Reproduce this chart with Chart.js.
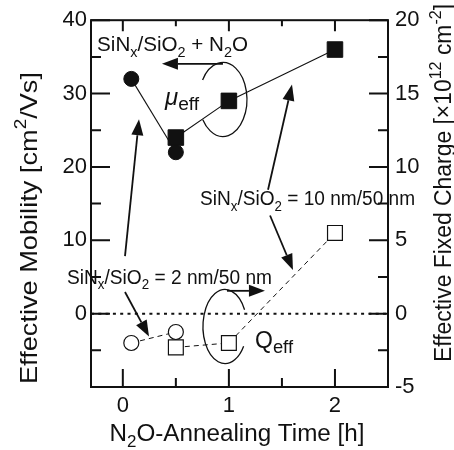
<!DOCTYPE html>
<html>
<head>
<meta charset="utf-8">
<script src="https://cdn.jsdelivr.net/npm/chart.js@4.4.1/dist/chart.umd.min.js"></script>
<style>
  html, body { margin: 0; padding: 0; background: #fff; }
</style>
</head>
<body>
<canvas id="c" width="454" height="450"></canvas>
<script>
// ─── Données ───
const timeCircle = [0.08, 0.5];        // SiNx/SiO2 = 2 nm/50 nm
const timeSquare = [0.5, 1, 2];        // SiNx/SiO2 = 10 nm/50 nm
const mobCircle  = [32, 22];
const mobSquare  = [24, 29, 36];
const qCircle    = [-2.0, -1.25];
const qSquare    = [-2.3, -2.0, 5.5];

const xTicks    = [0, 0.5, 1, 1.5, 2];
const xLabels   = [0, 1, 2];
const mobTicks  = [-10, -5, 0, 5, 10, 15, 20, 25, 30, 35, 40];
const mobLabels = [0, 10, 20, 30, 40];
const qTicks    = [-5, -2.5, 0, 2.5, 5, 7.5, 10, 12.5, 15, 17.5, 20];
const qLabels   = [-5, 0, 5, 10, 15, 20];

const FONT = "'Liberation Sans', Arial, sans-serif";
const INK  = '#111';

const pts = (xs, ys) => xs.map((x, i) => ({ x, y: ys[i] }));

// ─── Texte avec indices / exposants ───
function drawRich(ctx, parts, x, y, size, align, w) {
  const segs = parts.map(([t, k]) => {
    let s = size, dy = 0, style = '';
    if (k === 'sub') { s = size * 0.7; dy = size * 0.28; }
    if (k === 'sup') { s = size * 0.7; dy = -size * 0.42; }
    if (k === 'it')  { style = 'italic '; }
    if (k === 'eff') { s = size * 0.8; dy = size * 0.2; }
    const font = style + s.toFixed(1) + 'px ' + FONT;
    ctx.font = font;
    return { t, font, dy, w: ctx.measureText(t).width };
  });
  const total = segs.reduce((a, s) => a + s.w, 0);
  const sx = w ? w / total : 1;
  ctx.save();
  ctx.translate(x, y);
  ctx.scale(sx, 1);
  ctx.textAlign = 'left';
  ctx.textBaseline = 'alphabetic';
  let cx = align === 'center' ? -total / 2 : align === 'right' ? -total : 0;
  for (const s of segs) {
    ctx.font = s.font;
    ctx.fillText(s.t, cx, s.dy);
    cx += s.w;
  }
  ctx.restore();
}

function arrow(ctx, x1, y1, x2, y2) {
  const a = Math.atan2(y2 - y1, x2 - x1), L = 16, W = 6;
  const bx = x2 - L * Math.cos(a), by = y2 - L * Math.sin(a);
  ctx.beginPath(); ctx.moveTo(x1, y1); ctx.lineTo(bx, by); ctx.stroke();
  ctx.beginPath();
  ctx.moveTo(x2, y2);
  ctx.lineTo(bx + W * Math.sin(a), by - W * Math.cos(a));
  ctx.lineTo(bx - W * Math.sin(a), by + W * Math.cos(a));
  ctx.closePath(); ctx.fill();
}

// ─── Annotations (coordonnées en unités x / mobilité) ───
const texts = [
  { parts: [['SiN'], ['x', 'sub'], ['/SiO'], ['2', 'sub'], [' + N'], ['2', 'sub'], ['O']], x: -0.243, y: 35.8, size: 21, align: 'left', w: 151 },
  { parts: [['SiN'], ['x', 'sub'], ['/SiO'], ['2', 'sub'], [' = 10 nm/50 nm']], x: 2.755, y: 14.75, size: 20.5, align: 'right', w: 215 },
  { parts: [['SiN'], ['x', 'sub'], ['/SiO'], ['2', 'sub'], [' = 2 nm/50 nm']], x: -0.526, y: 4.1, size: 20.5, align: 'left', w: 205 },
  { parts: [['\u03bc', 'it'], ['eff', 'eff']], x: 0.398, y: 28.38, size: 24, align: 'left' },
  { parts: [['Q'], ['eff', 'eff']], x: 1.246, y: -4.73, size: 23, align: 'left' },
];
const arrows = [
  [0.944, 34.05, 0.369, 34.05],
  [0.0205, 7.85, 0.1525, 26.49],
  [0.0205, 2.95, 0.247, -3.11],
  [1.369, 16.89, 1.595, 31.22],
  [1.388, 13.38, 1.604, 5.95],
  [0.982, 3.11, 1.340, 3.11],
];
const loops = [
  { x: 0.944, y: 29.19, rx: 24, ry: 37, a0: -148, a1: 147, ccw: false },
  { x: 0.963, y: -1.76, rx: 22, ry: 37, a0: -27, a1: 32, ccw: true },
];

const decoPlugin = {
  id: 'deco',
  beforeDatasetsDraw(chart) {
    const { ctx, chartArea: a, scales } = chart;
    const y0 = scales.y.getPixelForValue(0);
    ctx.save();
    ctx.strokeStyle = INK;
    ctx.lineWidth = 2;
    ctx.setLineDash([3, 4.3]);
    ctx.beginPath(); ctx.moveTo(a.left, y0); ctx.lineTo(a.right, y0); ctx.stroke();
    ctx.restore();
  },
  afterDraw(chart) {
    const { ctx, chartArea: a, scales } = chart;
    const { x, y, yQ } = scales;
    ctx.save();
    ctx.strokeStyle = INK;
    ctx.fillStyle = INK;
    ctx.lineWidth = 2;
    ctx.strokeRect(a.left, a.top, a.right - a.left, a.bottom - a.top);

    // graduations intérieures
    ctx.beginPath();
    xTicks.forEach(v => {
      const px = x.getPixelForValue(v);
      const maj = xLabels.includes(v);
      ctx.moveTo(px, a.bottom); ctx.lineTo(px, a.bottom - (maj ? 18 : 9));
      ctx.moveTo(px, a.top);    ctx.lineTo(px, a.top + (maj ? 11 : 6));
    });
    mobTicks.forEach(v => {
      const py = y.getPixelForValue(v);
      ctx.moveTo(a.left, py); ctx.lineTo(a.left + (mobLabels.includes(v) ? 19 : 10), py);
    });
    qTicks.forEach(v => {
      const py = yQ.getPixelForValue(v);
      ctx.moveTo(a.right, py); ctx.lineTo(a.right - (qLabels.includes(v) ? 19 : 10), py);
    });
    ctx.stroke();

    // titres d'axes
    ctx.fillStyle = INK;
    drawRich(ctx, [['N'], ['2', 'sub'], ['O-Annealing Time [h]']], 237, 441, 23, 'center', 255);
    ctx.save();
    ctx.translate(28, 228); ctx.rotate(-Math.PI / 2);
    drawRich(ctx, [['Effective Mobility [cm'], ['2', 'sup'], ['/Vs]']], 0, 8.5, 24, 'center', 312);
    ctx.restore();
    ctx.save();
    ctx.translate(443, 183); ctx.rotate(-Math.PI / 2);
    drawRich(ctx, [['Effective Fixed Charge [\u00d710'], ['12', 'sup'], [' cm'], ['-2', 'sup'], [']']], 0, 8, 23, 'center', 358);
    ctx.restore();

    // annotations
    texts.forEach(t => drawRich(ctx, t.parts, x.getPixelForValue(t.x), y.getPixelForValue(t.y), t.size, t.align, t.w));
    ctx.lineWidth = 1.8;
    arrows.forEach(([x1, y1, x2, y2]) => arrow(ctx,
      x.getPixelForValue(x1), y.getPixelForValue(y1),
      x.getPixelForValue(x2), y.getPixelForValue(y2)));
    ctx.lineWidth = 1.3;
    loops.forEach(l => {
      ctx.beginPath();
      ctx.ellipse(x.getPixelForValue(l.x), y.getPixelForValue(l.y), l.rx, l.ry, 0,
        l.a0 * Math.PI / 180, l.a1 * Math.PI / 180, l.ccw);
      ctx.stroke();
    });
    ctx.restore();
  }
};

const tickFont = { family: FONT, size: 22 };
const noGrid = { display: false, drawTicks: false, tickLength: 0 };

new Chart(document.getElementById('c'), {
  type: 'line',
  data: {
    datasets: [
      {
        data: pts(timeSquare, mobSquare), yAxisID: 'y',
        borderColor: INK, borderWidth: 1.1,
        pointStyle: 'rect', pointRadius: 11, pointBackgroundColor: INK, pointBorderColor: INK, pointBorderWidth: 1,
      },
      {
        data: pts(timeSquare, qSquare), yAxisID: 'yQ',
        borderColor: INK, borderWidth: 1, borderDash: [5, 4],
        pointStyle: 'rect', pointRadius: 10.5, pointBackgroundColor: '#fff', pointBorderColor: INK, pointBorderWidth: 1.2,
      },
      {
        data: pts(timeCircle, mobCircle), yAxisID: 'y',
        borderColor: INK, borderWidth: 1.1,
        pointStyle: 'circle', pointRadius: 7.5, pointBackgroundColor: INK, pointBorderColor: INK, pointBorderWidth: 1,
      },
      {
        data: pts(timeCircle, qCircle), yAxisID: 'yQ',
        borderColor: INK, borderWidth: 1, borderDash: [5, 4],
        pointStyle: 'circle', pointRadius: 7.5, pointBackgroundColor: '#fff', pointBorderColor: INK, pointBorderWidth: 1.2,
      },
    ]
  },
  options: {
    responsive: false,
    animation: false,
    devicePixelRatio: 1,
    layout: { padding: { top: 17, left: 0, right: 0, bottom: 0 } },
    plugins: { legend: { display: false }, tooltip: { enabled: false } },
    scales: {
      x: {
        type: 'linear', min: -0.3, max: 2.5,
        afterBuildTicks: s => { s.ticks = xTicks.map(v => ({ value: v })); },
        afterFit: s => { s.height = 63; },
        ticks: { font: tickFont, color: INK, padding: 6, autoSkip: false, maxRotation: 0,
                 callback: v => xLabels.includes(v) ? String(v) : '' },
        grid: noGrid, border: { display: false },
      },
      y: {
        position: 'left', min: -10, max: 40,
        afterBuildTicks: s => { s.ticks = mobTicks.map(v => ({ value: v })); },
        afterFit: s => { s.width = 91; },
        ticks: { font: tickFont, color: INK, padding: 4, autoSkip: false,
                 callback: v => mobLabels.includes(v) ? String(v) : '' },
        grid: noGrid, border: { display: false },
      },
      yQ: {
        position: 'right', min: -5, max: 20,
        afterBuildTicks: s => { s.ticks = qTicks.map(v => ({ value: v })); },
        afterFit: s => { s.width = 66; },
        ticks: { font: tickFont, color: INK, padding: 7, autoSkip: false,
                 callback: v => qLabels.includes(v) ? String(v) : '' },
        grid: noGrid, border: { display: false },
      },
    }
  },
  plugins: [decoPlugin]
});
</script>
</body>
</html>
